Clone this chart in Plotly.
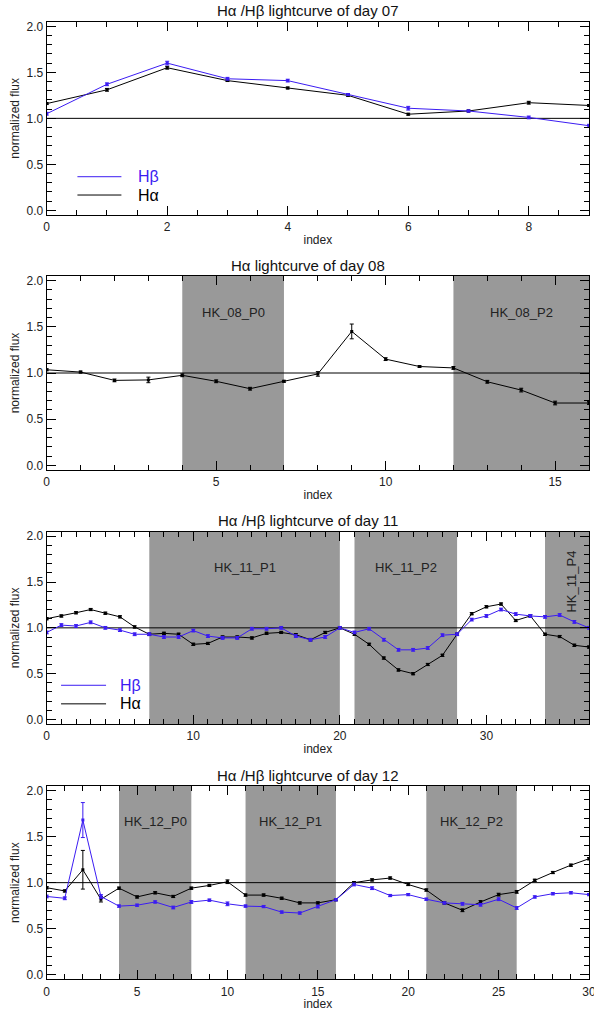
import plotly.graph_objects as go

# ---------------- data ----------------
idx07 = [0, 1, 2, 3, 4, 5, 6, 7, 8, 9]
hb07 = [1.05, 1.37, 1.60, 1.43, 1.41, 1.26, 1.11, 1.08, 1.01, 0.92]
hb07_err = [0.015, 0.015, 0.02, 0.015, 0.015, 0.01, 0.02, 0.01, 0.015, 0.015]
ha07 = [1.16, 1.31, 1.55, 1.41, 1.33, 1.25, 1.045, 1.08, 1.17, 1.14]
ha07_err = [0.01, 0.015, 0.015, 0.01, 0.01, 0.01, 0.01, 0.01, 0.015, 0.01]

idx08 = [0, 1, 2, 3, 4, 5, 6, 7, 8, 9, 10, 11, 12, 13, 14, 15, 16]
ha08 = [1.035, 1.01, 0.92, 0.925, 0.975, 0.91, 0.83, 0.91, 0.99, 1.45,
        1.15, 1.07, 1.055, 0.905, 0.815, 0.675, 0.675]
ha08_err = [0.01, 0.01, 0.015, 0.03, 0.015, 0.015, 0.015, 0.01, 0.025, 0.08,
            0.015, 0.01, 0.015, 0.015, 0.02, 0.02, 0.015]
periods08 = [(4, 7), (12, 16)]
labels08 = ["HK_08_P0", "HK_08_P2"]

idx11 = list(range(38))
ha11 = [1.10, 1.13, 1.165, 1.20, 1.16, 1.12, 1.01, 0.93, 0.94, 0.93,
        0.82, 0.83, 0.90, 0.90, 0.89, 0.94, 0.95, 0.925, 0.87, 0.95,
        1.00, 0.93, 0.82, 0.67, 0.54, 0.50, 0.60, 0.70, 0.93, 1.155,
        1.23, 1.26, 1.08, 1.13, 0.93, 0.905, 0.81, 0.79]
ha11_err = [0.012] * 38
hb11 = [0.95, 1.03, 1.02, 1.06, 1.00, 0.975, 0.93, 0.93, 0.90, 0.90,
        0.97, 0.91, 0.89, 0.89, 0.99, 0.99, 1.00, 0.91, 0.87, 0.90,
        1.00, 0.95, 0.99, 0.87, 0.76, 0.76, 0.78, 0.92, 0.93, 1.09,
        1.13, 1.20, 1.15, 1.13, 1.12, 1.14, 1.065, 1.00]
hb11_err = [0.015] * 38
periods11 = [(7, 20), (21, 28), (34, 37)]
labels11 = ["HK_11_P1", "HK_11_P2", "HK_11_P4"]

idx12 = list(range(31))
ha12 = [0.945, 0.91, 1.14, 0.82, 0.94, 0.845, 0.89, 0.85, 0.94, 0.97,
        1.01, 0.865, 0.865, 0.83, 0.78, 0.78, 0.815, 1.00, 1.03, 1.05,
        0.98, 0.92, 0.78, 0.70, 0.79, 0.87, 0.90, 1.025, 1.11, 1.19, 1.26]
ha12_err = [0.012, 0.012, 0.21, 0.03, 0.012, 0.012, 0.012, 0.012, 0.012, 0.012,
            0.02, 0.012, 0.012, 0.012, 0.012, 0.012, 0.012, 0.012, 0.012, 0.012,
            0.012, 0.012, 0.012, 0.015, 0.015, 0.015, 0.015, 0.012, 0.012, 0.012, 0.012]
hb12 = [0.85, 0.83, 1.68, 0.85, 0.745, 0.755, 0.79, 0.73, 0.79, 0.81,
        0.77, 0.745, 0.74, 0.68, 0.67, 0.74, 0.815, 0.98, 0.94, 0.86,
        0.87, 0.82, 0.78, 0.77, 0.76, 0.82, 0.725, 0.845, 0.88, 0.89, 0.87]
hb12_err = [0.015, 0.015, 0.19, 0.02, 0.012, 0.012, 0.012, 0.015, 0.015, 0.012,
            0.02, 0.012, 0.012, 0.012, 0.012, 0.015, 0.012, 0.015, 0.015, 0.012,
            0.012, 0.012, 0.012, 0.015, 0.015, 0.015, 0.015, 0.012, 0.012, 0.012, 0.012]
periods12 = [(4, 8), (11, 16), (21, 26)]
labels12 = ["HK_12_P0", "HK_12_P1", "HK_12_P2"]

titles = ["H\u03b1 /H\u03b2 lightcurve of day 07",
          "H\u03b1 lightcurve of day 08",
          "H\u03b1 /H\u03b2 lightcurve of day 11",
          "H\u03b1 /H\u03b2 lightcurve of day 12"]
xmax = [9, 16, 37, 30]
xdtick = [2, 5, 10, 5]
xminor = [0.5, 1, 1, 1]

# ---------------- styling ----------------
W, H = 594, 1011
BLUE = "#3b1cf2"
BLACK = "#000000"
GRAY = "#999999"
FONT = "Liberation Sans, Arial, Helvetica, sans-serif"
YR = [-0.05, 2.05]

x0_px, x1_px = 46.7, 589.0
panels_px = [(21.7, 215.0), (276.0, 470.0), (531.7, 724.0), (786.0, 979.3)]

fig = go.Figure()


def add_series(n, x, y, err, color):
    fig.add_trace(go.Scatter(
        x=x, y=y, mode="lines+markers",
        line=dict(color=color, width=1),
        marker=dict(symbol="square", size=3, color=color),
        error_y=dict(type="data", array=err, color=color, thickness=1, width=2),
        xaxis="x" if n == 1 else f"x{n}",
        yaxis="y" if n == 1 else f"y{n}",
        showlegend=False, hoverinfo="skip"))


add_series(1, idx07, ha07, ha07_err, BLACK)
add_series(1, idx07, hb07, hb07_err, BLUE)
add_series(2, idx08, ha08, ha08_err, BLACK)
add_series(3, idx11, ha11, ha11_err, BLACK)
add_series(3, idx11, hb11, hb11_err, BLUE)
add_series(4, idx12, ha12, ha12_err, BLACK)
add_series(4, idx12, hb12, hb12_err, BLUE)

shapes = []
annotations = []
layout = {}

for i in range(4):
    n = i + 1
    top, bot = panels_px[i]
    xs = "x" if n == 1 else f"x{n}"
    ys = "y" if n == 1 else f"y{n}"
    layout["xaxis" if n == 1 else f"xaxis{n}"] = dict(
        domain=[x0_px / W, x1_px / W], range=[0, xmax[i]], automargin=False,
        anchor=ys, tick0=0, dtick=xdtick[i], ticks="inside", ticklen=9,
        tickcolor="black", mirror="ticks", showline=True, linecolor="black",
        linewidth=1, showgrid=False, zeroline=False, ticklabelstandoff=1,
        ticklabeloverflow="allow",
        minor=dict(dtick=xminor[i], tick0=0, ticks="inside", ticklen=5,
                   tickcolor="black", showgrid=False),
        tickfont=dict(family=FONT, size=12, color="#222"),
        title=dict(text="index", font=dict(family=FONT, size=12, color="#222"),
                   standoff=2),
    )
    layout["yaxis" if n == 1 else f"yaxis{n}"] = dict(
        domain=[1 - bot / H, 1 - top / H], range=YR, anchor=xs,
        automargin=False,
        tick0=0, dtick=0.5, tickformat=".1f", ticks="inside", ticklen=9,
        tickcolor="black", mirror="ticks", showline=True, linecolor="black",
        linewidth=1, showgrid=False, zeroline=False,
        minor=dict(dtick=0.1, tick0=0, ticks="inside", ticklen=5,
                   tickcolor="black", showgrid=False),
        tickfont=dict(family=FONT, size=12, color="#222"),
        title=dict(text="normalized flux",
                   font=dict(family=FONT, size=12, color="#222"), standoff=4),
    )
    annotations.append(dict(
        text=titles[i], x=308 / W, y=1 - (top - 11) / H, xref="paper",
        yref="paper", xanchor="center", yanchor="middle", showarrow=False,
        font=dict(family=FONT, size=15, color="#111")))


def shade(n, periods, labels, rot_last=False):
    xs = "x" if n == 1 else f"x{n}"
    ys = "y" if n == 1 else f"y{n}"
    for k, (a, b) in enumerate(periods):
        shapes.append(dict(type="rect", xref=xs, yref=f"{ys} domain",
                           x0=a, x1=b, y0=0, y1=1, fillcolor=GRAY,
                           line=dict(width=0), layer="below"))
        if rot_last and k == len(periods) - 1:
            annotations.append(dict(
                text=labels[k], x=(a + b) / 2 + 0.3, y=1.51, xref=xs, yref=ys,
                textangle=-90, showarrow=False,
                font=dict(family=FONT, size=13, color="#222")))
        else:
            annotations.append(dict(
                text=labels[k], x=(a + b) / 2, y=1.66, xref=xs, yref=ys,
                showarrow=False, font=dict(family=FONT, size=13, color="#222")))


shade(2, periods08, labels08)
shade(3, periods11, labels11, rot_last=True)
shade(4, periods12, labels12)

# unity reference line on every panel
for n in range(1, 5):
    xs = "x" if n == 1 else f"x{n}"
    ys = "y" if n == 1 else f"y{n}"
    shapes.append(dict(type="line", xref=f"{xs} domain", yref=ys, x0=0, x1=1,
                       y0=1, y1=1, line=dict(color="black", width=1),
                       layer="below"))


# in-plot legends (panels 1 and 3)
def legend(n, xa, xb, xt, yb, yk):
    xs = "x" if n == 1 else f"x{n}"
    ys = "y" if n == 1 else f"y{n}"
    for yy, col, txt in [(yb, BLUE, "H\u03b2"), (yk, BLACK, "H\u03b1")]:
        shapes.append(dict(type="line", xref=xs, yref=ys, x0=xa, x1=xb,
                           y0=yy, y1=yy, line=dict(color=col, width=1)))
        annotations.append(dict(text=txt, x=xt, y=yy, xref=xs, yref=ys,
                                xanchor="left", yanchor="middle",
                                showarrow=False,
                                font=dict(family=FONT, size=16, color=col)))


legend(1, 0.51, 1.24, 1.49, 0.366, 0.167)
legend(3, 0.98, 4.05, 4.87, 0.373, 0.17)

fig.update_layout(
    template="none",
    width=W, height=H, autosize=False,
    margin=dict(l=0, r=0, t=0, b=0, pad=0),
    paper_bgcolor="white", plot_bgcolor="white",
    hovermode=False,
    shapes=shapes, annotations=annotations,
    **layout)

# remove the browser's default page margin so the figure fills the window
fig.write_html("out.html",
               config={"displayModeBar": False, "staticPlot": True},
               post_script="document.body.style.margin='0px';"
                           "document.body.style.overflow='hidden';")
